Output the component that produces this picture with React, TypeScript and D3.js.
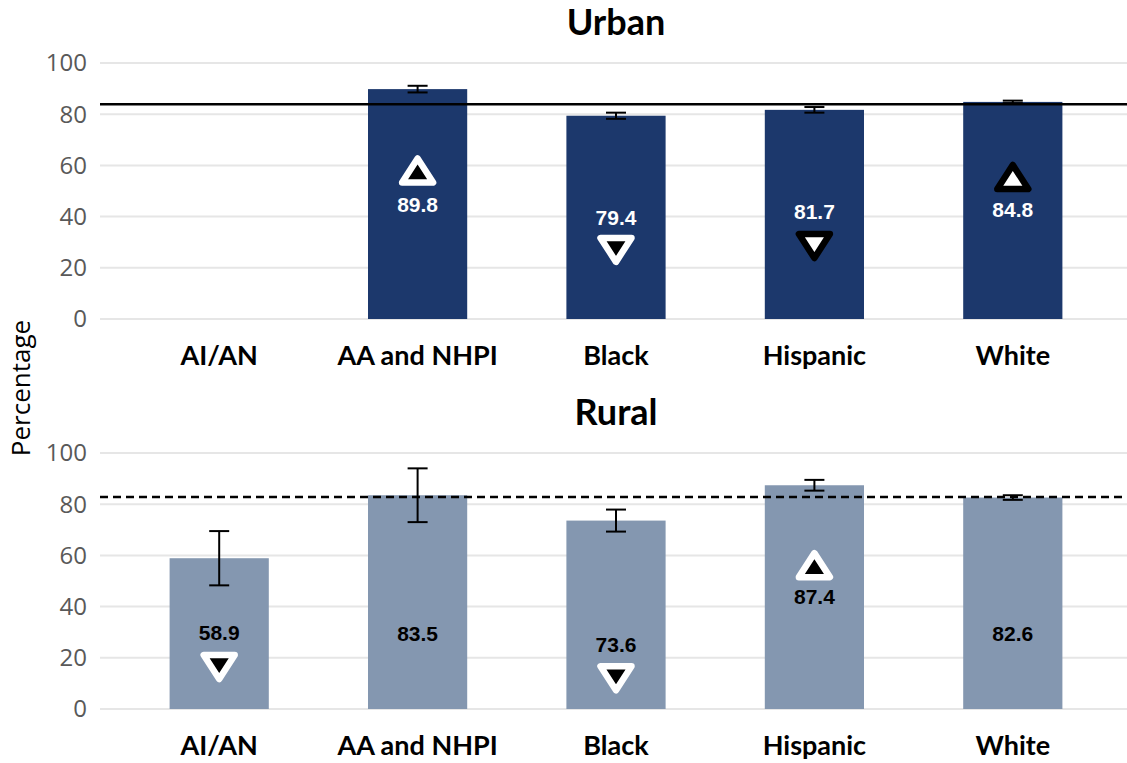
import React from "react";
import * as d3 from "d3";

const categories = ["AI/AN", "AA and NHPI", "Black", "Hispanic", "White"];
const urbanValues: (number | null)[] = [null, 89.8, 79.4, 81.7, 84.8];
const urbanErrors: (number | null)[] = [null, 1.3, 1.2, 1.1, 0.5];
const ruralValues: (number | null)[] = [58.9, 83.5, 73.6, 87.4, 82.6];
const ruralErrors: (number | null)[] = [10.6, 10.5, 4.3, 2.1, 0.9];
const urbanBenchmark = 83.9;
const ruralBenchmark = 82.8;
// significance markers: direction and style ("light" = white outline/black fill, "dark" = black outline/white fill)
const urbanMarkers: ([string, string] | null)[] = [null, ["up", "light"], ["down", "light"], ["down", "dark"], ["up", "dark"]];
const ruralMarkers: ([string, string] | null)[] = [["down", "light"], null, ["down", "light"], ["up", "light"], null];
const yTicks = [0, 20, 40, 60, 80, 100];

// annotation layout (data units)
const urbanLabelAt = [null, 44.5, 39.5, 41.8, 42.6];
const urbanMarkerAt = [null, 58, 27, 28.5, 55.5];
const ruralLabelAt = [30, 29.3, 25, 43.7, 29.3];
const ruralMarkerAt = [16.4, null, 12, 56.2, null];

const W = 1127;
const H = 763;

function Triangle({ cx, cy, dir, style }: { cx: number; cy: number; dir: string; style: string }) {
  const w = 31, h = 24;
  const pts =
    dir === "up"
      ? [[cx, cy - h / 2], [cx + w / 2, cy + h / 2], [cx - w / 2, cy + h / 2]]
      : [[cx - w / 2, cy - h / 2], [cx + w / 2, cy - h / 2], [cx, cy + h / 2]];
  const light = style === "light";
  return (
    <polygon
      points={pts.map((p) => p.join(",")).join(" ")}
      fill={light ? "#000" : "#fff"}
      stroke={light ? "#fff" : "#000"}
      strokeWidth={6.5}
      strokeLinejoin="round"
    />
  );
}

function Panel({
  title, titleY, top, bottom, values, errors, benchmark, dashed, color, labelColor, markers, labelAt, markerAt, catY,
}: any) {
  const x = d3.scaleBand<string>().domain(categories).range([120, 1112]).paddingInner(0.5).paddingOuter(0.25);
  const y = d3.scaleLinear().domain([0, 100]).range([bottom, top]);
  const bw = x.bandwidth();
  return (
    <g>
      <text x={616} y={titleY} textAnchor="middle" fontFamily="Lato, 'Open Sans', sans-serif" fontWeight="bold" fontSize={36} fill="#000">
        {title}
      </text>
      {yTicks.map((t) => (
        <g key={t}>
          <line x1={100} x2={W} y1={y(t)} y2={y(t)} stroke="#e6e6e6" strokeWidth={2} />
          <text x={87} y={y(t)} dy="0.35em" textAnchor="end" fontFamily="'Open Sans', sans-serif" fontSize={24} fill="#595959">
            {t}
          </text>
        </g>
      ))}
      {categories.map((c, i) => {
        const v = values[i];
        if (v == null) return null;
        return <rect key={c} x={x(c)} y={y(v)} width={bw} height={y(0) - y(v)} fill={color} />;
      })}
      <line x1={100} x2={W} y1={y(benchmark)} y2={y(benchmark)} stroke="#000" strokeWidth={2.5} strokeDasharray={dashed ? "8,5" : undefined} />
      {categories.map((c, i) => {
        const v = values[i];
        const e = errors[i];
        if (v == null || e == null) return null;
        const cx = (x(c) as number) + bw / 2;
        return (
          <g key={c} stroke="#000" strokeWidth={2}>
            <line x1={cx} x2={cx} y1={y(v + e)} y2={y(v - e)} />
            <line x1={cx - 10} x2={cx + 10} y1={y(v + e)} y2={y(v + e)} />
            <line x1={cx - 10} x2={cx + 10} y1={y(v - e)} y2={y(v - e)} />
          </g>
        );
      })}
      {categories.map((c, i) => {
        const v = values[i];
        if (v == null) return null;
        const cx = (x(c) as number) + bw / 2;
        const m = markers[i];
        return (
          <g key={c}>
            <text x={cx} y={y(labelAt[i])} dy="0.35em" textAnchor="middle" fontFamily="'Liberation Sans', Arial, sans-serif" fontWeight="bold" fontSize={21} fill={labelColor}>
              {v.toFixed(1)}
            </text>
            {m && markerAt[i] != null && <Triangle cx={cx} cy={y(markerAt[i])} dir={m[0]} style={m[1]} />}
          </g>
        );
      })}
      {categories.map((c) => (
        <text key={c} x={(x(c) as number) + bw / 2} y={catY} dy="0.35em" textAnchor="middle" fontFamily="Lato, 'Open Sans', sans-serif" fontWeight="bold" fontSize={27} fill="#000">
          {c}
        </text>
      ))}
    </g>
  );
}

export default function App() {
  return (
    <svg width={W} height={H} style={{ position: "absolute", left: 0, top: 0, background: "#fff" }}>
      <Panel
        title="Urban" titleY={35} top={63} bottom={319} values={urbanValues} errors={urbanErrors}
        benchmark={urbanBenchmark} dashed={false} color="#1c386c" labelColor="#fff"
        markers={urbanMarkers} labelAt={urbanLabelAt} markerAt={urbanMarkerAt} catY={356}
      />
      <Panel
        title="Rural" titleY={425} top={453} bottom={709} values={ruralValues} errors={ruralErrors}
        benchmark={ruralBenchmark} dashed={true} color="#8497b0" labelColor="#000"
        markers={ruralMarkers} labelAt={ruralLabelAt} markerAt={ruralMarkerAt} catY={746}
      />
      <text transform="translate(30,388) rotate(-90)" textAnchor="middle" fontFamily="'Open Sans', sans-serif" fontSize={26} fill="#000">
        Percentage
      </text>
    </svg>
  );
}
